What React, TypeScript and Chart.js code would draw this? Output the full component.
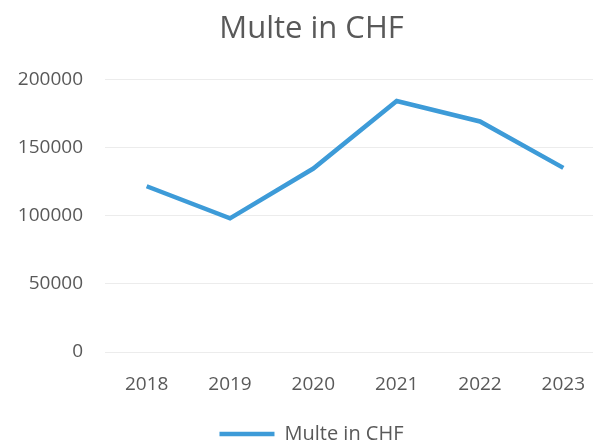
import React, { useEffect, useRef } from "react";
import { Chart, registerables } from "chart.js";

Chart.register(...registerables);

const categories = ["2018", "2019", "2020", "2021", "2022", "2023"];
const seriesName = "Multe in CHF";
const values = [121500, 98000, 134500, 184000, 169000, 135000];
const yTicks = [0, 50000, 100000, 150000, 200000];

export default function App() {
  const ref = useRef<HTMLCanvasElement | null>(null);
  useEffect(() => {
    if (!ref.current) return;
    const font = "'Open Sans', 'DejaVu Sans', sans-serif";
    const chart = new Chart(ref.current, {
      type: "line",
      data: {
        labels: categories,
        datasets: [
          {
            label: seriesName,
            data: values,
            borderColor: "#3d9bd8",
            backgroundColor: "#3d9bd8",
            borderWidth: 4.5,
            pointRadius: 0,
            tension: 0,
          },
        ],
      },
      options: {
        responsive: false,
        animation: false,
        layout: { padding: { left: 18, right: 15, top: 9, bottom: 0 } },
        plugins: {
          title: {
            display: true,
            text: seriesName,
            color: "#595959",
            font: { family: font, size: 31, weight: "normal" },
            padding: { top: 2, bottom: 31 },
          },
          legend: {
            position: "bottom",
            labels: {
              usePointStyle: true,
              pointStyle: "line",
              pointStyleWidth: 55,
              boxWidth: 55,
              boxHeight: 4,
              color: "#595959",
              font: { family: font, size: 20 },
              padding: 0,
            },
          },
          tooltip: { enabled: false },
        },
        scales: {
          x: {
            offset: true,
            grid: { display: false },
            border: { display: false },
            afterFit: (axis: any) => {
              axis.height = 72;
            },
            ticks: {
              color: "#595959",
              font: { family: font, size: 19 },
              padding: 13,
              maxRotation: 0,
            },
          },
          y: {
            min: 0,
            max: 200000,
            afterBuildTicks: (axis: any) => {
              axis.ticks = yTicks.map((v) => ({ value: v }));
            },
            afterFit: (axis: any) => {
              axis.width = 87;
            },
            grid: { color: "#ececec", lineWidth: 1, drawTicks: false },
            border: { display: false },
            ticks: {
              color: "#595959",
              font: { family: font, size: 19 },
              padding: 22,
              callback: (v: any) => String(v),
            },
          },
        },
      },
    });
    return () => chart.destroy();
  }, []);
  return (
    <div
      style={{
        position: "fixed",
        left: 0,
        top: 0,
        width: 593,
        height: 443,
        overflow: "hidden",
        background: "#fff",
      }}
    >
      <canvas ref={ref} width={620} height={454} style={{ display: "block" }} />
    </div>
  );
}
